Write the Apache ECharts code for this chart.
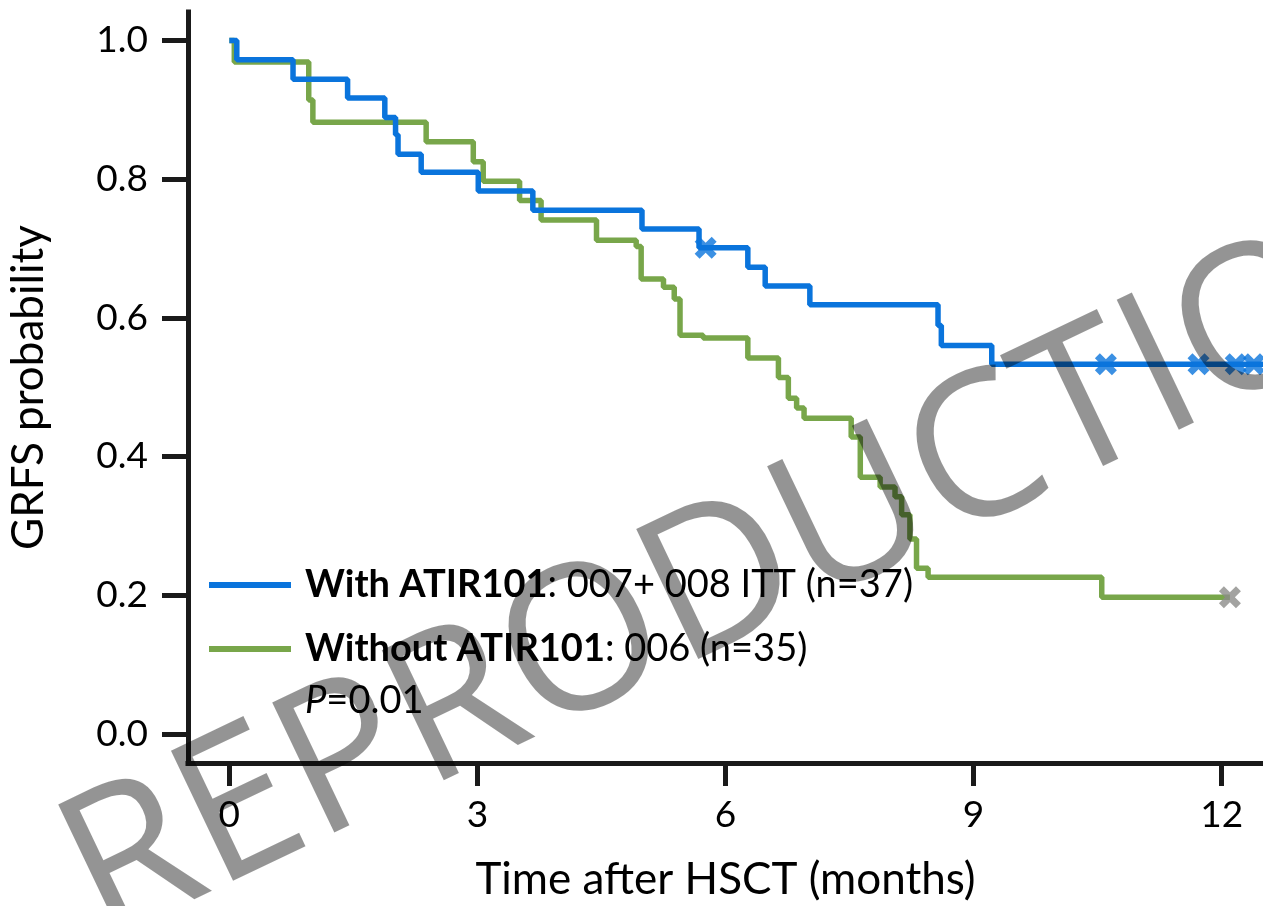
<!DOCTYPE html>
<html><head><meta charset="utf-8">
<script src="https://cdn.jsdelivr.net/npm/echarts@6/dist/echarts.min.js"></script>
<style>html,body{margin:0;padding:0;background:#fff}#c{width:1263px;height:906px}</style>
</head><body><div id="c"></div>
<script>
// ---- data ----
const withTimes = [0, 0.09, 0.77, 1.43, 1.88, 2.01, 2.04, 2.32, 3.01, 3.67, 4.99, 5.68, 6.27, 6.48, 7.02, 8.57, 8.61, 9.22, 12.5];
const withSurv  = [1.0, 0.972, 0.944, 0.917, 0.889, 0.864, 0.836, 0.810, 0.783, 0.755, 0.728, 0.701, 0.673, 0.646, 0.619, 0.589, 0.560, 0.533, 0.533];
const withCensorTimes = [5.76, 10.60, 11.72, 12.17, 12.39];
const withCensorSurv  = [0.701, 0.533, 0.533, 0.533, 0.533];

const withoutTimes = [0, 0.06, 0.96, 1.01, 2.38, 2.95, 3.07, 3.51, 3.77, 4.44, 4.92, 4.98, 5.25, 5.38, 5.45, 5.73, 6.27, 6.64, 6.76, 6.86, 6.95, 7.52, 7.63, 7.87, 8.05, 8.13, 8.23, 8.31, 8.45, 10.55, 12.10];
const withoutSurv  = [1.0, 0.969, 0.914, 0.882, 0.854, 0.825, 0.797, 0.769, 0.741, 0.712, 0.703, 0.656, 0.644, 0.627, 0.575, 0.571, 0.542, 0.514, 0.484, 0.470, 0.455, 0.428, 0.370, 0.356, 0.342, 0.316, 0.281, 0.239, 0.226, 0.197, 0.197];
const withoutCensorTimes = [12.10];
const withoutCensorSurv  = [0.197];

const xTicks = [0, 3, 6, 9, 12];
const yTicks = [0, 0.2, 0.4, 0.6, 0.8, 1.0];
const seriesNames = ['With ATIR101', 'Without ATIR101'];
const seriesNotes = [': 007+ 008 ITT (n=37)', ': 006 (n=35)'];
const pLabel = 'P';
const pValue = '=0.01';
const xTitle = 'Time after HSCT (months)';
const yTitle = 'GRFS probability';
const watermark = 'REPRODUCTION';

// ---- styling ----
const BLUE = '#0a74dc', GREEN = '#78a64a', GREY_X = '#8c8c8a', AXIS = '#1a1a1a';
const FONT = 'Lato';
const zip = (a, b) => a.map((v, i) => [v, b[i]]);
const crossPath = 'path://M4.5,0 L10,5.5 L15.5,0 L20,4.5 L14.5,10 L20,15.5 L15.5,20 L10,14.5 L4.5,20 L0,15.5 L5.5,10 L0,4.5 Z';

const chart = echarts.init(document.getElementById('c'), null, {renderer: 'canvas'});
chart.setOption({
  animation: false,
  backgroundColor: '#fff',
  grid: {left: 188, right: 0, top: 12, bottom: 143, containLabel: false, outerBoundsMode: 'none'},
  xAxis: {
    type: 'value', min: -0.5, max: 12.5,
    name: xTitle, nameLocation: 'middle', nameGap: 95,
    nameTextStyle: {fontFamily: FONT, fontSize: 44, color: '#000'},
    axisLine: {onZero: false, lineStyle: {color: AXIS, width: 5, cap: 'square'}},
    axisTick: {show: true, length: 23, lineStyle: {color: AXIS, width: 5}, customValues: xTicks},
    axisLabel: {customValues: xTicks, fontFamily: FONT, fontSize: 37, color: '#000', margin: 34},
    splitLine: {show: false}
  },
  yAxis: {
    type: 'value', min: -0.042, max: 1.041,
    name: yTitle, nameLocation: 'middle', nameGap: 137, nameRotate: 90,
    nameTextStyle: {fontFamily: FONT, fontSize: 44, color: '#000'},
    axisLine: {onZero: false, lineStyle: {color: AXIS, width: 5, cap: 'square'}},
    axisTick: {show: true, length: 26, lineStyle: {color: AXIS, width: 5}, customValues: yTicks},
    axisLabel: {customValues: yTicks, fontFamily: FONT, fontSize: 37, color: '#000', margin: 40,
      formatter: v => v.toFixed(1)},
    splitLine: {show: false}
  },
  legend: {
    data: seriesNames, orient: 'vertical', left: 209, top: 563, itemGap: 20, padding: 0,
    icon: 'rect', itemWidth: 82, itemHeight: 6,
    formatter: name => '{b|' + name + '}{r|' + seriesNotes[seriesNames.indexOf(name)] + '}',
    textStyle: {
      padding: [0, 0, 0, 9], lineHeight: 44,
      rich: {
        b: {fontFamily: FONT, fontSize: 38, fontWeight: 'bold', color: '#000', lineHeight: 44},
        r: {fontFamily: FONT, fontSize: 38, color: '#000', lineHeight: 44}
      }
    }
  },
  graphic: [
    {type: 'text', left: 305, top: 682, z: 50,
     style: {text: '{i|' + pLabel + '}{r|' + pValue + '}',
       rich: {i: {fontFamily: FONT, fontSize: 38, fontStyle: 'italic', fill: '#000'},
              r: {fontFamily: FONT, fontSize: 38, fill: '#000'}}}},
    {type: 'text', x: 772, y: 560, rotation: 25.5 * Math.PI / 180, z: 100, silent: true,
     style: {text: watermark, fontFamily: 'Open Sans', fontSize: 202, fill: 'rgba(0,0,0,0.42)',
       align: 'center', verticalAlign: 'middle'}}
  ],
  series: [
    {name: seriesNames[1], type: 'line', step: 'end', data: zip(withoutTimes, withoutSurv),
     showSymbol: false, symbol: 'none', lineStyle: {color: GREEN, width: 5.5}, itemStyle: {color: GREEN}, z: 2},
    {name: seriesNames[0], type: 'line', step: 'end', data: zip(withTimes, withSurv),
     showSymbol: false, symbol: 'none', lineStyle: {color: BLUE, width: 5.5}, itemStyle: {color: BLUE}, z: 3},
    {name: 'withoutCensor', type: 'scatter', data: zip(withoutCensorTimes, withoutCensorSurv),
     symbol: crossPath, symbolSize: 22, itemStyle: {color: GREY_X}, z: 4},
    {name: 'withCensor', type: 'scatter', data: zip(withCensorTimes, withCensorSurv),
     symbol: crossPath, symbolSize: 22, itemStyle: {color: BLUE}, z: 5}
  ]
});
</script></body></html>
